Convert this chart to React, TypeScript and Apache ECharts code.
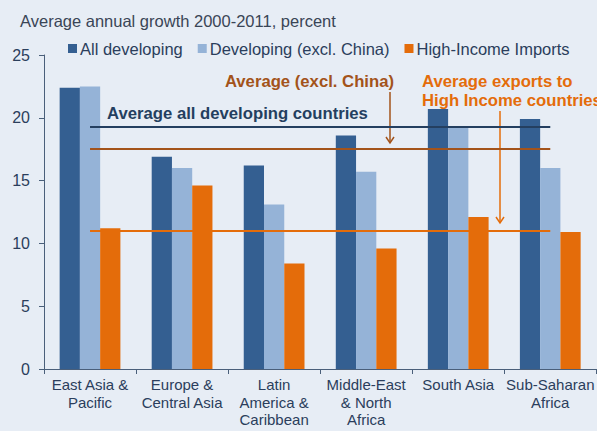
import React, { useEffect, useRef } from "react";
import * as echarts from "echarts";

const categories = [
  "East Asia &\nPacific",
  "Europe &\nCentral Asia",
  "Latin\nAmerica &\nCaribbean",
  "Middle-East\n& North\nAfrica",
  "South Asia",
  "Sub-Saharan\nAfrica",
];
const allDeveloping = [22.4, 16.9, 16.2, 18.6, 20.7, 19.9];
const developingExclChina = [22.5, 16.0, 13.1, 15.7, 19.2, 16.0];
const highIncomeImports = [11.2, 14.6, 8.4, 9.6, 12.1, 10.9];
const avgAllDeveloping = 19.3;
const avgExclChina = 17.5;
const avgExportsHighIncome = 11.0;
const yTicks = [0, 5, 10, 15, 20, 25];

const FONT = "'Liberation Sans', Arial, sans-serif";
const NAVY = "#345F91";
const LIGHT = "#95B3D7";
const ORANGE = "#E46C0A";
const BROWN = "#A3531A";
const DARKNAVY = "#243F60";
const TEXT = "#2B3E5C";
const ANN = `bold 16.7px ${FONT}`;

function hLineSeries(value: number, color: string) {
  return {
    type: "line",
    data: [],
    silent: true,
    markLine: {
      silent: true,
      symbol: ["none", "none"],
      label: { show: false },
      lineStyle: { color, width: 2, type: "solid" },
      data: [
        [
          { coord: [categories[0], value] },
          { coord: [categories[categories.length - 1], value] },
        ],
      ],
    },
  };
}

export default function App() {
  const ref = useRef<HTMLDivElement>(null);
  useEffect(() => {
    if (!ref.current) return;
    const chart = echarts.init(ref.current, null, { renderer: "svg" });
    chart.setOption({
      animation: false,
      backgroundColor: "#E7EDF5",
      textStyle: { fontFamily: FONT },
      title: {
        text: "Average annual growth 2000-2011, percent",
        left: 15,
        top: 7,
        textStyle: { fontSize: 16.5, fontWeight: "normal", color: "#3A4556", fontFamily: FONT },
      },
      legend: {
        left: 63,
        top: 35,
        icon: "rect",
        itemWidth: 9,
        itemHeight: 9,
        itemGap: 15,
        textStyle: { fontSize: 16.5, color: TEXT, fontFamily: FONT, padding: [0, 0, 0, -2] },
        data: ["All developing", "Developing (excl. China)", "High-Income Imports"],
      },
      grid: { left: 44, right: -5, top: 55, bottom: 62, containLabel: false },
      xAxis: {
        type: "category",
        data: categories,
        axisLine: { lineStyle: { color: "#4A5F7A", width: 1 } },
        axisTick: { show: true, length: 5, lineStyle: { color: "#4A5F7A" } },
        axisLabel: {
          fontSize: 15,
          color: TEXT,
          fontFamily: FONT,
          lineHeight: 17.5,
          margin: 7,
          interval: 0,
        },
      },
      yAxis: {
        type: "value",
        min: 0,
        max: 25,
        interval: 5,
        splitLine: { show: false },
        axisLine: { show: true, lineStyle: { color: "#4A5F7A", width: 1 } },
        axisTick: { show: true, length: 5, lineStyle: { color: "#4A5F7A" } },
        axisLabel: {
          fontSize: 16,
          color: TEXT,
          fontFamily: FONT,
          margin: 14,
          formatter: (v: number) => (yTicks.includes(v) ? String(v) : ""),
        },
      },
      series: [
        {
          name: "All developing",
          type: "bar",
          data: allDeveloping,
          itemStyle: { color: NAVY },
          barGap: "0%",
          barCategoryGap: "34%",
        },
        {
          name: "Developing (excl. China)",
          type: "bar",
          data: developingExclChina,
          itemStyle: { color: LIGHT },
          barGap: "0%",
          barCategoryGap: "34%",
        },
        {
          name: "High-Income Imports",
          type: "bar",
          data: highIncomeImports,
          itemStyle: { color: ORANGE },
          barGap: "0%",
          barCategoryGap: "34%",
        },
        hLineSeries(avgAllDeveloping, DARKNAVY),
        hLineSeries(avgExclChina, BROWN),
        hLineSeries(avgExportsHighIncome, ORANGE),
      ],
      graphic: [
        {
          type: "text",
          x: 107,
          y: 113,
          silent: true,
          style: {
            text: "Average all developing countries",
            fill: DARKNAVY,
            font: ANN,
            verticalAlign: "middle",
            align: "left",
          },
        },
        {
          type: "text",
          x: 394,
          y: 81,
          silent: true,
          style: {
            text: "Average (excl. China)",
            fill: BROWN,
            font: ANN,
            verticalAlign: "middle",
            align: "right",
          },
        },
        {
          type: "line",
          silent: true,
          shape: { x1: 390, y1: 92, x2: 390, y2: 143 },
          style: { stroke: BROWN, lineWidth: 1.5 },
        },
        {
          type: "polyline",
          silent: true,
          shape: { points: [[386, 137], [390, 143], [394, 137]] },
          style: { stroke: BROWN, lineWidth: 1.5, fill: null },
        },
        {
          type: "text",
          x: 422,
          y: 81,
          silent: true,
          style: {
            text: "Average exports to",
            fill: ORANGE,
            font: ANN,
            verticalAlign: "middle",
            align: "left",
          },
        },
        {
          type: "text",
          x: 422,
          y: 100,
          silent: true,
          style: {
            text: "High Income countries",
            fill: ORANGE,
            font: ANN,
            verticalAlign: "middle",
            align: "left",
          },
        },
        {
          type: "line",
          silent: true,
          shape: { x1: 500, y1: 111, x2: 500, y2: 223 },
          style: { stroke: ORANGE, lineWidth: 1.5 },
        },
        {
          type: "polyline",
          silent: true,
          shape: { points: [[496, 217], [500, 223], [504, 217]] },
          style: { stroke: ORANGE, lineWidth: 1.5, fill: null },
        },
      ],
    });
    return () => chart.dispose();
  }, []);
  return (
    <div
      ref={ref}
      style={{ position: "fixed", left: 0, top: 0, width: 597, height: 431 }}
    />
  );
}
